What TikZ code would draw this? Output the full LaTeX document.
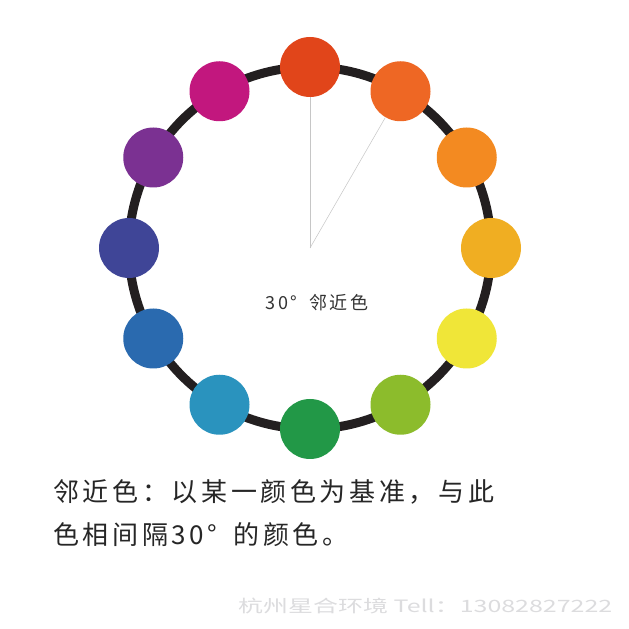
\documentclass[tikz,border=0pt]{standalone}
\usepackage{fontspec}
\usetikzlibrary{calc}
\setmainfont{Noto Sans CJK SC}
\newfontfamily\cjkwide[LetterSpace=14]{Noto Sans CJK SC}
\definecolor{redorange}{HTML}{E1451A}
\definecolor{orange}{HTML}{EE6724}
\definecolor{lightorange}{HTML}{F38A21}
\definecolor{gold}{HTML}{F0AE22}
\definecolor{yellow}{HTML}{F0E638}
\definecolor{yellowgreen}{HTML}{8CBC2C}
\definecolor{green}{HTML}{229847}
\definecolor{cyanblue}{HTML}{2A93BE}
\definecolor{blue}{HTML}{2A6AAF}
\definecolor{indigo}{HTML}{3F4597}
\definecolor{purple}{HTML}{7B3192}
\definecolor{magenta}{HTML}{C2177E}
\definecolor{ring}{HTML}{231F20}
\definecolor{mark}{HTML}{DCDCDE}
\tikzset{
	hue/.style={circle,minimum size=60pt,inner sep=0pt},
	guide/.style={gray!45,line width=0.5pt}
}
\begin{document}
\begin{tikzpicture}[x=1pt,y=1pt]
	\useasboundingbox[fill=white] (0,0) rectangle (629,629);
	\coordinate (o) at (310,381);
	\draw[ring,line width=9pt] (o) circle (181);
	\foreach \a/\c in {90/redorange, 60/orange, 30/lightorange, 0/gold,
		330/yellow, 300/yellowgreen, 270/green, 240/cyanblue,
		210/blue, 180/indigo, 150/purple, 120/magenta}
	\node[hue,fill=\c] (h\a) at ($(o)+(\a:181)$) {};
	\draw[guide] (o) -- (h90);
	\draw[guide] (o) -- (h60);
	\node[text=black!80,font=\fontsize{18}{20}\cjkwide] (lbl) at (317,326) {30°\hspace{12pt}邻近色};
	\node[anchor=west,inner sep=0pt,text=black!85,font=\fontsize{26}{30}\cjkwide]
		(line1) at (53,137) {邻近色：以某一颜色为基准，与此};
	\node[anchor=west,inner sep=0pt,text=black!85,font=\fontsize{26}{30}\cjkwide]
		(line2) at (53,94) {色相间隔30°\hspace{16pt}的颜色。};
	\node[anchor=west,inner sep=0pt,text=mark,font=\fontsize{17}{20}\selectfont]
		(wm) at (238,23) {\resizebox{374pt}{\height}{杭州星合环境 Tell：13082827222}};
\end{tikzpicture}
\end{document}
